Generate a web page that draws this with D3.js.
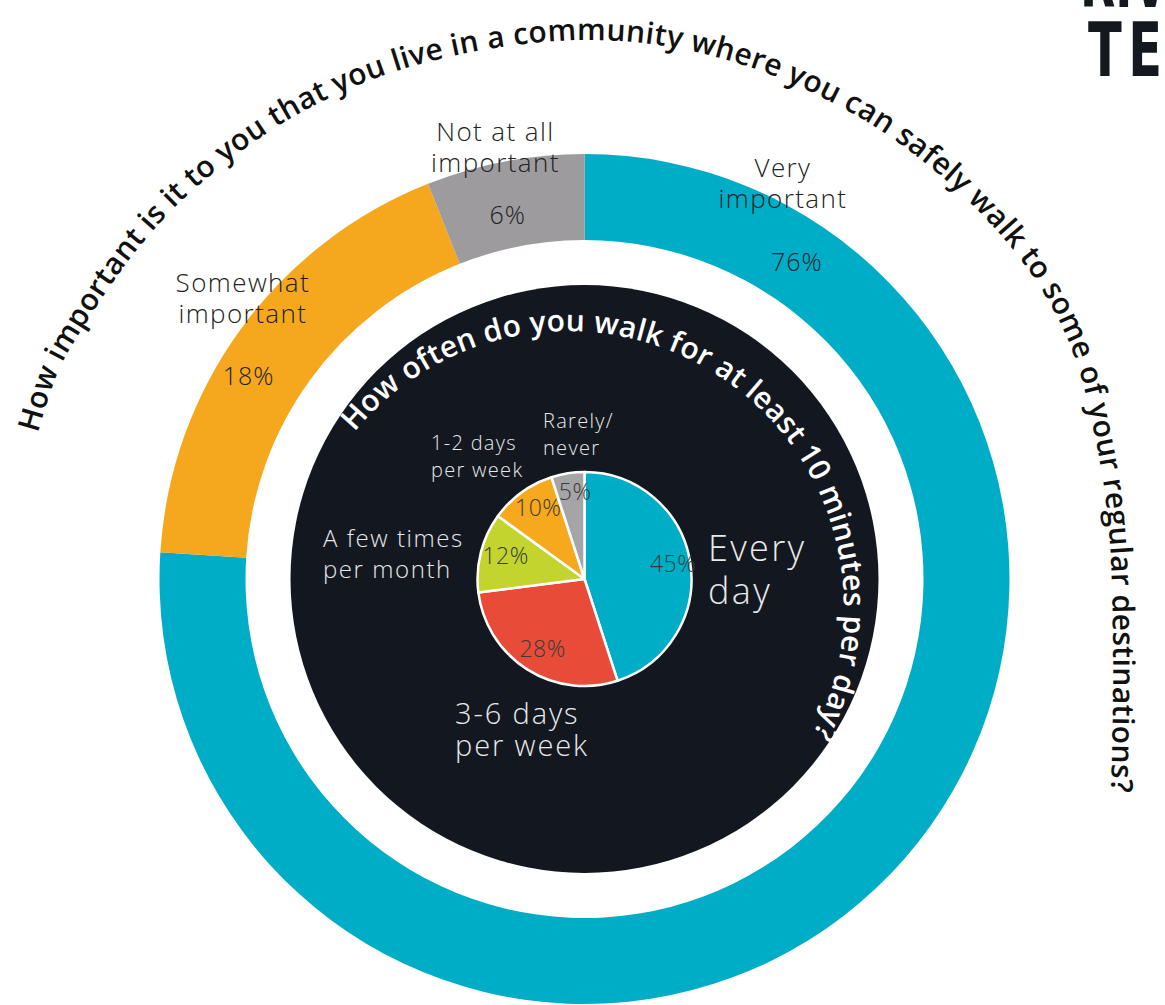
<!DOCTYPE html>
<html>
<head>
<meta charset="utf-8">
<script src="https://cdn.jsdelivr.net/npm/d3@7"></script>
<style>
  html, body { margin: 0; padding: 0; background: #ffffff; }
  svg { display: block; }
</style>
</head>
<body>
<svg id="chart" width="1165" height="1005"></svg>
<script>
// ---------------- DATA ----------------
const importanceCategories = ["Very important", "Somewhat important", "Not at all important"];
const importanceValues = [76, 18, 6];
const importanceLabelLines = [["Very", "important"], ["Somewhat", "important"], ["Not at all", "important"]];

const walkCategories = ["Every day", "3-6 days per week", "A few times per month", "1-2 days per week", "Rarely/never"];
const walkValues = [45, 28, 12, 10, 5];
const walkLabelLines = [["Every", "day"], ["3-6 days", "per week"], ["A few times", "per month"], ["1-2 days", "per week"], ["Rarely/", "never"]];

const outerTitle = "How important is it to you that you live in a community where you can safely walk to some of your regular destinations?";
const innerTitle = "How often do you walk for at least 10 minutes per day?";
const logoLines = ["RIV", "TE"];

// ---------------- LAYOUT / STYLE ----------------
const cx = 584.5, cy = 579;
const ringOuter = 425, ringInner = 339, discR = 294, pieR = 107;

const importanceColors = ["#00adc7", "#f5a81e", "#9d9b9e"];
const walkColors = ["#00adc7", "#e84c38", "#c2d42d", "#f6a91c", "#a5a4a6"];

const labelFont = "'Open Sans', Lato, sans-serif";
const titleFont = "'Open Sans', Lato, sans-serif";

const svg = d3.select("#chart");
const defs = svg.append("defs");
const g = svg.append("g").attr("transform", `translate(${cx},${cy})`);

const pie = d3.pie().sort(null).value(d => d);

// Outer ring
const ringArc = d3.arc().innerRadius(ringInner).outerRadius(ringOuter);
const ringData = pie(importanceValues);
g.selectAll("path.ring").data(ringData).join("path")
  .attr("class", "ring")
  .attr("d", ringArc)
  .attr("fill", (d, i) => importanceColors[i]);

// Dark disc
g.append("circle").attr("r", discR).attr("fill", "#131820");

// Inner pie
const pieArc = d3.arc().innerRadius(0).outerRadius(pieR);
const pieData = pie(walkValues);
g.selectAll("path.pie").data(pieData).join("path")
  .attr("class", "pie")
  .attr("d", pieArc)
  .attr("fill", (d, i) => walkColors[i])
  .attr("stroke", "#ffffff")
  .attr("stroke-width", 2.5)
  .attr("stroke-linejoin", "round");

// Pie percentage labels
const pieLabelArc = d3.arc().innerRadius(pieR * 0.8).outerRadius(pieR * 0.8);
g.selectAll("text.pct").data(pieData).join("text")
  .attr("class", "pct")
  .attr("transform", d => { const c = pieLabelArc.centroid(d); return `translate(${c[0] + 4},${c[1] + 6})`; })
  .attr("text-anchor", "middle")
  .attr("font-family", labelFont)
  .attr("font-weight", 300)
  .attr("font-size", 23)
  .attr("letter-spacing", 0.5)
  .attr("fill", "#3a3a3a")
  .text(d => d.data + "%");

// Outer ring labels (polar placement: angle in degrees clockwise from top, radius)
const ringLabelPos = {
  "Very important":       { name: [26.3, 448], pct: [34.6, 374] },
  "Somewhat important":   { name: [-50.0, 446], pct: [-60.0, 388] },
  "Not at all important": { name: [-11.5, 447], pct: [-12.2, 363] }
};
function polar(deg, r) {
  const a = deg * Math.PI / 180;
  return [r * Math.sin(a), -r * Math.cos(a)];
}
importanceCategories.forEach((cat, i) => {
  const pos = ringLabelPos[cat];
  const p = polar(pos.name[0], pos.name[1]);
  const t = g.append("text")
    .attr("x", p[0]).attr("y", p[1])
    .attr("text-anchor", "middle")
    .attr("font-family", labelFont).attr("font-weight", 300)
    .attr("font-size", 26).attr("letter-spacing", 1.4).attr("fill", "#222");
  importanceLabelLines[i].forEach((ln, j) => {
    t.append("tspan").attr("x", p[0]).attr("dy", j === 0 ? 0 : 31).text(ln);
  });
  const q = polar(pos.pct[0], pos.pct[1]);
  g.append("text")
    .attr("x", q[0]).attr("y", q[1])
    .attr("text-anchor", "middle")
    .attr("font-family", labelFont).attr("font-weight", 300)
    .attr("font-size", 25).attr("letter-spacing", 1).attr("fill", "#222")
    .text(importanceValues[i] + "%");
});

// Pie category labels (left-aligned: [x, firstBaseline, fontSize, lineGap])
const walkLabelPos = {
  "Every day":             [708, 561, 36, 43],
  "3-6 days per week":     [455, 724, 29, 32],
  "A few times per month": [323, 547, 24, 31],
  "1-2 days per week":     [431, 450, 20, 27],
  "Rarely/never":          [543, 428, 20, 27]
};
walkCategories.forEach((cat, i) => {
  const [x, y, fs, gap] = walkLabelPos[cat];
  const t = svg.append("text")
    .attr("x", x).attr("y", y)
    .attr("font-family", labelFont).attr("font-weight", 300)
    .attr("font-size", fs).attr("letter-spacing", fs * 0.065).attr("fill", "#e8e8e8");
  walkLabelLines[i].forEach((ln, j) => {
    t.append("tspan").attr("x", x).attr("dy", j === 0 ? 0 : gap).text(ln);
  });
});

// Curved titles: one textPath per word, letter-spaced so the text fills the guide path
function fitWordsOnPath(id, text, fs, color, targetLen) {
  const words = text.split(" ");
  const m = svg.append("text").attr("font-family", titleFont).attr("font-weight", 600)
    .attr("font-size", fs).attr("visibility", "hidden");
  const len = s => { m.text(s); return m.node().getComputedTextLength(); };
  const wl = words.map(len);
  const sp = len("a b") - len("ab");
  m.remove();
  const natural = d3.sum(wl) + sp * (words.length - 1);
  const ls = (targetLen - natural) / (text.length - 1);
  let off = 0;
  words.forEach((w, j) => {
    svg.append("text")
      .attr("font-family", titleFont).attr("font-weight", 600)
      .attr("font-size", fs).attr("letter-spacing", ls).attr("fill", color)
      .append("textPath").attr("href", "#" + id).attr("startOffset", off).text(w);
    off += wl[j] + ls * w.length + sp + ls;
  });
}

// Outer title guide: baseline through hand-read points (last point is an overrun tail)
const outerGuide = [[38, 433], [58, 372], [84, 326], [140, 246], [200, 184], [300, 113], [420, 64],
  [585, 40], [720, 58], [850, 112], [950, 184], [1030, 272], [1072, 350], [1094, 432],
  [1108, 520], [1113, 640], [1111, 792]];
const guideTail = [1108, 860];
const lineGen = d3.line().curve(d3.curveCatmullRom.alpha(0.5));
defs.append("path").attr("id", "outerTitlePath").attr("d", lineGen(outerGuide.concat([guideTail])));
const measurePath = defs.append("path").attr("d", lineGen(outerGuide));
const outerLen = measurePath.node().getTotalLength();
measurePath.remove();
fitWordsOnPath("outerTitlePath", outerTitle, 30, "#111111", outerLen);

// Inner title guide: circle
function circlePathD(ccx, ccy, r, startDeg) {
  const p = d => { const a = d * Math.PI / 180; return [ccx + r * Math.sin(a), ccy - r * Math.cos(a)]; };
  const a = p(startDeg), b = p(startDeg + 180), c = p(startDeg + 359.9);
  return `M${a[0]},${a[1]} A${r},${r} 0 0 1 ${b[0]},${b[1]} A${r},${r} 0 0 1 ${c[0]},${c[1]}`;
}
const innerC = [568, 607], innerR = 276, innerStart = -50.7, innerEnd = 117.4;
defs.append("path").attr("id", "innerTitlePath").attr("d", circlePathD(innerC[0], innerC[1], innerR, innerStart));
fitWordsOnPath("innerTitlePath", innerTitle, 30, "#ffffff", (innerEnd - innerStart) * Math.PI / 180 * innerR);

// Logo fragment (top-right, clipped by the page edge)
const logoFont = "'DejaVu Sans', sans-serif";
svg.append("text").attr("transform", "translate(1080,7) scale(0.62,1)")
  .attr("font-family", logoFont).attr("font-weight", 700).attr("font-size", 74)
  .attr("fill", "#141920").text(logoLines[0]);
svg.append("text").attr("transform", "translate(1088,76) scale(0.66,1)")
  .attr("font-family", logoFont).attr("font-weight", 700).attr("font-size", 75)
  .attr("letter-spacing", 10).attr("fill", "#141920").text(logoLines[1]);
</script>
</body>
</html>
